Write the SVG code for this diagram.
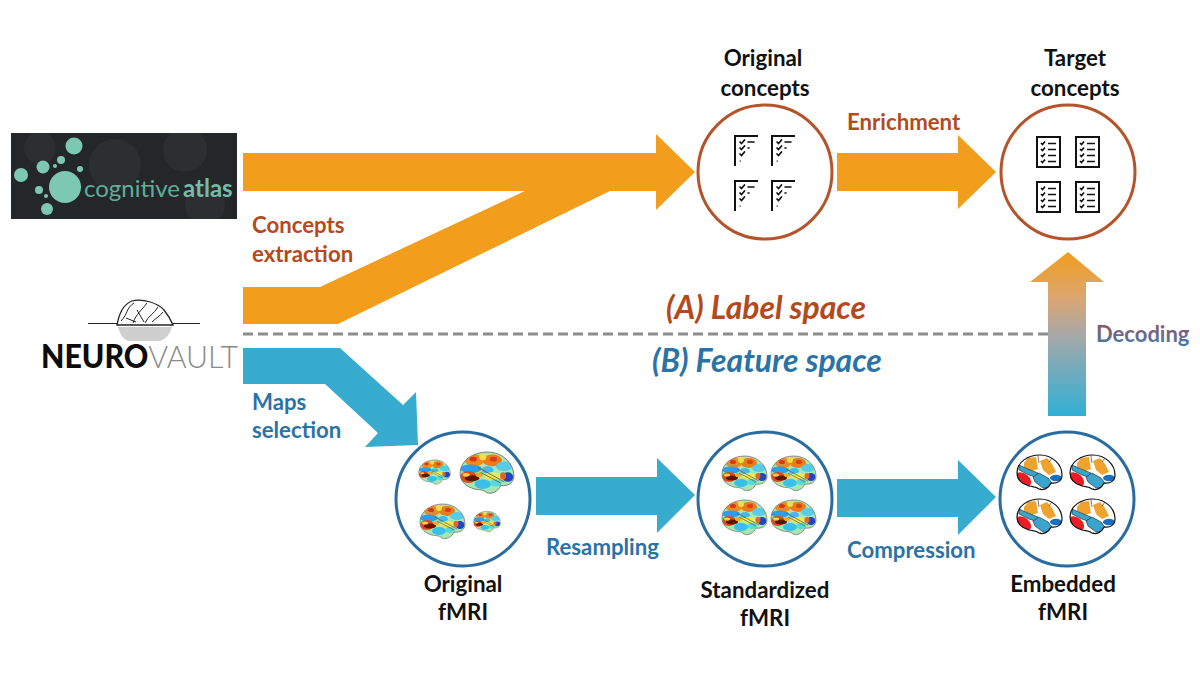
<svg xmlns="http://www.w3.org/2000/svg" width="1200" height="675" viewBox="0 0 1200 675">
<style>
text{font-family:Lato,"Liberation Sans",sans-serif;font-weight:700}
.k{fill:#111;font-size:22.3px;text-anchor:middle}
.o{fill:#b44a1c;font-size:22.200px}
.b{fill:#2b72a6;font-size:22.200px}
.arO{fill:#f29d1c}
.arB{fill:#38acce}
.cO{fill:#fff;stroke:#b5532a;stroke-width:3}
.cB{fill:#fff;stroke:#2a6c9f;stroke-width:3}
</style>
<defs>
<linearGradient id="up" x1="0" y1="1" x2="0" y2="0"><stop offset="0" stop-color="#2fb0d6"/><stop offset=".5" stop-color="#a9a8a8"/><stop offset=".72" stop-color="#dba670"/><stop offset="1" stop-color="#f29d1c"/></linearGradient>
<linearGradient id="dec" x1="0" y1="0" x2="0" y2="1"><stop offset="0" stop-color="#a5504e"/><stop offset="1" stop-color="#3f7cb4"/></linearGradient>
<path id="bo" d="M1,18C1,7 12,0 24,0C36,0 46,9 46,20C46,26 41,29 35,28C33,33 27,36 23,34C20,31 17,32 13,31C6,29 1,25 1,18Z"/>
<clipPath id="bc"><use href="#bo"/></clipPath>
<filter id="bl" x="-10%" y="-10%" width="120%" height="120%"><feGaussianBlur stdDeviation=".5"/></filter>
<symbol id="heat" viewBox="0 0 47 36" overflow="visible">
<use href="#bo" fill="#a6e6b0"/>
<g clip-path="url(#bc)"><g filter="url(#bl)">
<ellipse cx="13" cy="7" rx="8" ry="5" fill="#f08a1c"/>
<ellipse cx="28" cy="7" rx="8" ry="5" fill="#ef7a18"/>
<ellipse cx="20" cy="4" rx="3" ry="3" fill="#f7dc4a"/>
<ellipse cx="12" cy="6" rx="3" ry="2" fill="#d8341a"/>
<ellipse cx="29" cy="6" rx="3" ry="2" fill="#d8401a"/>
<ellipse cx="38" cy="12" rx="7" ry="4" fill="#58cbe8"/>
<ellipse cx="10" cy="14" rx="9" ry="3.500" fill="#2a9fee"/>
<ellipse cx="24" cy="15" rx="5" ry="3" fill="#45b8f0"/>
<ellipse cx="8" cy="21" rx="7" ry="5" fill="#e0481a"/>
<ellipse cx="11" cy="22" rx="6" ry="2.500" fill="#5f1206"/>
<ellipse cx="6" cy="19" rx="3" ry="1.500" fill="#f6d23c"/>
<ellipse cx="28" cy="20" rx="7" ry="3" fill="#f0e85a"/>
<ellipse cx="20" cy="27" rx="7" ry="4" fill="#38c0ea"/>
<ellipse cx="31" cy="26" rx="5" ry="3" fill="#58d8d8"/>
<ellipse cx="41" cy="21" rx="4.500" ry="4" fill="#2344c4"/>
<ellipse cx="37" cy="20" rx="2.500" ry="3" fill="#e8641a"/>
<ellipse cx="17" cy="19" rx="3" ry="2" fill="#f7a828"/>
</g>
<path d="M16,13L38,25M18,17L35,26" fill="none" stroke="#56632e" stroke-width=".7"/></g>
<use href="#bo" fill="none" stroke="#777" stroke-width=".8"/>
</symbol>
<symbol id="emb" viewBox="0 0 47 36" overflow="visible">
<use href="#bo" fill="#fff"/>
<g clip-path="url(#bc)">
<path d="M8,8L12,3L20,2L22,14L16,16L8,12Z" fill="#f0a32c"/>
<path d="M24,6L31,3L36,9L40,17L33,20L27,15Z" fill="#f0a32c"/>
<path d="M3,10L12,14L22,18L22,23L13,20L3,15Z" fill="#3aa4cc" stroke="#222" stroke-width=".6"/>
<path d="M17,22L23,18L32,23L36,28L33,33L27,33L19,27Z" fill="#3aa4cc" stroke="#222" stroke-width=".6"/>
<ellipse cx="40" cy="23" rx="6" ry="3.200" fill="#1a70c0"/>
<ellipse cx="7" cy="25" rx="9" ry="6.500" transform="rotate(40 7 25)" fill="#ee1c24"/>
<path d="M22,1L23,8M36,3L33,7M25,33L22,36" fill="none" stroke="#222" stroke-width=".6"/>
</g>
<use href="#bo" fill="none" stroke="#111" stroke-width="1.200"/>
</symbol>
<g id="part" fill="none" stroke="#111" stroke-linecap="round">
<path d="M0,30V0H23" stroke-width="2" stroke-linecap="butt"/>
<path d="M5,6L6.500,7.500L9.500,4M5,12L6.500,13.500L9.500,10M5,18L6.500,19.500L9.500,16" stroke-width="1.700"/>
<path d="M13,6H19M13,12H14" stroke-width="1.600"/><path d="M5,25H5.500" stroke-width="1.200"/>
</g>
<g id="full" fill="none" stroke="#111">
<rect x="0" y="0" width="23" height="30" stroke-width="2"/>
<path d="M4,6L5.500,7.500L8,4.500M4,12L5.500,13.500L8,10.500M4,18L5.500,19.500L8,16.500M4,24L5.500,25.500L8,22.500" stroke-width="1.700"/>
<path d="M11,6.500H19M11,12.500H19M11,18.500H19M11,24.500H19" stroke-width="1.600"/>
</g>
<clipPath id="logo"><rect x="11" y="133" width="226" height="86"/></clipPath>
</defs>
<rect width="1200" height="675" fill="#fff"/>

<g id="connectors">
<path class="arO" d="M243,153H656V134L695,172L656,210V191H243Z"/>
<path class="arO" d="M243,287H320L527,190H612L338,324H243Z"/>
<path class="arO" d="M837,153H958V135L996,172L958,209V191H837Z"/>
<path class="arB" d="M243,348H340L403,405L416,392L418,445L365,447L378,433L325,384H243Z"/>
<path class="arB" d="M536,477H657V458L695,495L657,533V515H536Z"/>
<path class="arB" d="M837,479H958V460L996,497L958,535V517H837Z"/>
<path d="M243,334H1048" stroke="#8c8c8c" stroke-width="3" stroke-dasharray="10 5" fill="none"/>
<path fill="url(#up)" d="M1048,416V282H1030L1068,252L1104,282H1086V416Z"/>
</g>

<g id="cognitive-atlas">
<rect x="11" y="133" width="226" height="86" fill="#24272a"/>
<g fill="#2b2f31" clip-path="url(#logo)"><circle cx="115" cy="165" r="26"/><circle cx="185" cy="150" r="22"/><circle cx="40" cy="148" r="16"/><circle cx="205" cy="205" r="20"/></g>
<g fill="#7cc8b0">
<circle cx="74" cy="146" r="8.500"/><circle cx="43" cy="167" r="6.500"/><circle cx="61" cy="160" r="4"/><circle cx="80" cy="169" r="3"/><circle cx="55" cy="166" r="2"/>
<circle cx="21" cy="175" r="7"/><circle cx="65" cy="187" r="16"/><circle cx="39" cy="190" r="4"/><circle cx="46" cy="196" r="2"/><circle cx="47" cy="209" r="6"/>
</g>
<text x="84" y="197" font-size="24" fill="#5fae98" style="font-weight:400">cognitive</text>
<text x="183" y="197" font-size="24" fill="#74bca8">atlas</text>
</g>

<g id="neurovault">
<path d="M88,323.500H117M172,323.500H200" stroke="#222" stroke-width="1.200" fill="none"/>
<path d="M117,325C119,315 122,305 132,301C142,298 158,303 164,310C168,315 171,320 173,325Z" fill="#fff" stroke="#222" stroke-width="1.300"/>
<path d="M121,321C128,314 126,308 134,303M126,318L136,322M133,323C136,314 142,310 147,303M137,310L144,322M145,323C148,316 154,314 158,307M152,322C156,318 160,316 163,312" fill="none" stroke="#222" stroke-width="1"/>
<path d="M118,327H172C170,334 166,339 160,341H128C123,339 120,334 118,327Z" fill="#cfcfcf"/>
<text x="41" y="367.500" font-size="32" fill="#0c0c0c" style="font-weight:900" textLength="197" lengthAdjust="spacingAndGlyphs">NEURO<tspan fill="#8a8a8a" style="font-weight:300">VAULT</tspan></text>
</g>

<g id="original-concepts">
<circle class="cO" cx="765" cy="172" r="67"/>
<use href="#part" x="735" y="136"/><use href="#part" x="772" y="136"/><use href="#part" x="735" y="181"/><use href="#part" x="772" y="181"/>
<text class="k" x="763" y="66">Original</text><text class="k" x="765" y="96">concepts</text>
</g>
<g id="target-concepts">
<circle class="cO" cx="1068" cy="172" r="67"/>
<use href="#full" x="1037" y="137"/><use href="#full" x="1076" y="137"/><use href="#full" x="1037" y="182"/><use href="#full" x="1076" y="182"/>
<text class="k" x="1075" y="66">Target</text><text class="k" x="1075" y="96">concepts</text>
</g>
<g id="original-fmri">
<circle class="cB" cx="463" cy="499" r="67"/>
<use href="#heat" x="418" y="459" width="33" height="27"/><use href="#heat" x="459" y="451" width="56" height="45"/><use href="#heat" x="419" y="503" width="47" height="38"/><use href="#heat" x="473" y="511" width="28" height="22"/>
<text class="k" x="463" y="592">Original</text><text class="k" x="463" y="620">fMRI</text>
</g>
<g id="standardized-fmri">
<circle class="cB" cx="765" cy="499" r="67"/>
<use href="#heat" x="721" y="456" width="47" height="36"/><use href="#heat" x="770" y="456" width="47" height="36"/><use href="#heat" x="721" y="500" width="47" height="36"/><use href="#heat" x="770" y="500" width="47" height="36"/>
<text class="k" x="765" y="598">Standardized</text><text class="k" x="765" y="626">fMRI</text>
</g>
<g id="embedded-fmri">
<circle class="cB" cx="1067" cy="499" r="67"/>
<use href="#emb" x="1016" y="455" width="47" height="36"/><use href="#emb" x="1069" y="455" width="47" height="36"/><use href="#emb" x="1016" y="499" width="47" height="36"/><use href="#emb" x="1069" y="499" width="47" height="36"/>
<text class="k" x="1063" y="592">Embedded</text><text class="k" x="1063" y="620">fMRI</text>
</g>

<g id="labels">
<text class="o" x="847" y="130">Enrichment</text>
<text class="o" x="252" y="233">Concepts</text><text class="o" x="252" y="262">extraction</text>
<text class="b" x="252" y="410">Maps</text><text class="b" x="252" y="438">selection</text>
<text class="b" x="546" y="555">Resampling</text>
<text class="b" x="847" y="558">Compression</text>
<text x="1096" y="342" font-size="22" fill="url(#dec)">Decoding</text>
<text x="666" y="318.500" font-size="31.900" fill="#b44a1c" font-style="italic">(A) Label space</text>
<text x="652" y="371.500" font-size="31.900" fill="#2b72a6" font-style="italic">(B) Feature space</text>
</g>
</svg>
